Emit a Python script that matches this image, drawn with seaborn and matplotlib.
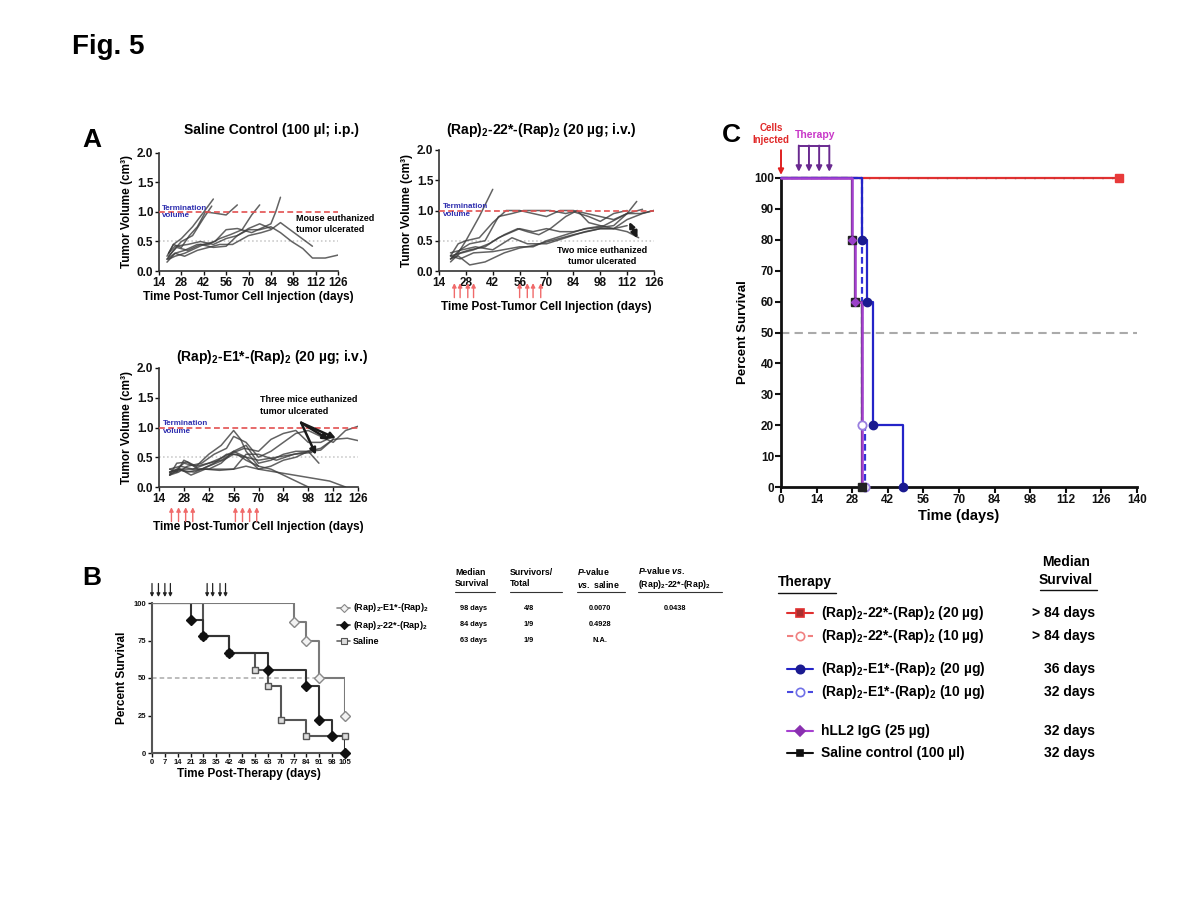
import numpy as np
import pandas as pd
import matplotlib
matplotlib.use('Agg')
import matplotlib.pyplot as plt
import matplotlib.transforms as mtransforms
import seaborn as sns

# ---------------- panel A: tumour volume (cm3) of each mouse ----------------
sal_days = [
    [19, 23, 28, 35, 42, 48],
    [19, 23, 28, 35, 42, 47],
    [20, 23, 28, 33, 38, 43, 49, 56, 63],
    [19, 24, 30, 38, 45, 52, 59, 66, 72, 77],
    [20, 24, 30, 42, 49, 56, 63, 72, 80, 84, 87, 90],
    [20, 25, 32, 40, 48, 56, 63, 70, 77, 84, 90, 97, 104, 110, 118, 126],
    [19, 24, 30, 38, 45, 52, 60, 70, 78, 84, 90, 100, 110],
    [20, 24, 32, 40, 48, 56, 63, 70, 77, 84],
]
sal_vol = [
    [0.25, 0.45, 0.55, 0.75, 1.00, 1.22],
    [0.20, 0.35, 0.50, 0.60, 0.90, 1.10],
    [0.30, 0.45, 0.40, 0.60, 0.75, 1.00, 0.98, 0.95, 1.12],
    [0.15, 0.30, 0.35, 0.45, 0.45, 0.55, 0.62, 0.70, 0.95, 1.12],
    [0.20, 0.25, 0.30, 0.45, 0.50, 0.70, 0.72, 0.65, 0.75, 0.80, 1.00, 1.25],
    [0.25, 0.40, 0.35, 0.45, 0.40, 0.42, 0.60, 0.70, 0.70, 0.75, 0.65, 0.50, 0.38, 0.22, 0.22, 0.27],
    [0.20, 0.30, 0.25, 0.35, 0.40, 0.45, 0.45, 0.60, 0.65, 0.70, 0.82, 0.62, 0.42],
    [0.30, 0.42, 0.45, 0.50, 0.45, 0.55, 0.60, 0.72, 0.80, 0.72],
]

r22_days = [
    [20, 24, 28, 35, 42],
    [20, 24, 28, 35, 42, 49, 56, 63, 70, 77, 84, 91, 98, 105, 112, 119, 126],
    [20, 25, 30, 38, 45, 52, 58, 65, 72, 80, 84, 92, 98, 105, 112],
    [20, 25, 30, 38, 45, 56, 63, 70, 77, 84, 91, 98, 105, 112, 117],
    [20, 26, 32, 40, 48, 55, 60, 66, 72, 80, 86, 92, 98, 105, 112, 118],
    [20, 24, 30, 38, 48, 56, 63, 70, 84, 98, 105, 112, 120, 126],
    [20, 26, 33, 42, 52, 60, 70, 80, 90, 98, 105, 112],
    [20, 25, 32, 42, 56, 63, 70, 80, 90, 100, 112, 120],
]
r22_vol = [
    [0.20, 0.30, 0.50, 0.90, 1.35],
    [0.25, 0.45, 0.50, 0.55, 0.80, 1.00, 1.00, 0.95, 0.90, 1.00, 1.00, 0.95, 0.90, 0.85, 0.95, 0.95, 1.00],
    [0.20, 0.35, 0.45, 0.50, 0.90, 0.95, 1.00, 1.00, 1.00, 0.95, 0.98, 0.90, 0.82, 0.95, 1.00],
    [0.15, 0.30, 0.35, 0.40, 0.55, 0.70, 0.65, 0.70, 0.65, 0.65, 0.70, 0.72, 0.75, 0.95, 1.15],
    [0.25, 0.30, 0.35, 0.45, 0.60, 0.70, 0.65, 0.60, 0.70, 0.90, 1.00, 0.80, 0.75, 0.70, 0.65, 0.55],
    [0.20, 0.25, 0.10, 0.15, 0.30, 0.38, 0.42, 0.48, 0.60, 0.70, 0.70, 0.85, 0.95, 1.00],
    [0.30, 0.35, 0.40, 0.35, 0.55, 0.45, 0.45, 0.55, 0.65, 0.70, 0.70, 0.75],
    [0.25, 0.20, 0.30, 0.32, 0.40, 0.40, 0.50, 0.60, 0.70, 0.75, 0.95, 1.02],
]

e1_days = [
    [20, 24, 28, 35, 42, 49, 56, 60, 63, 70],
    [20, 25, 30, 38, 45, 52, 56, 63, 70, 77, 84, 91, 98, 105, 112, 119, 126],
    [20, 24, 28, 35, 42, 50, 56, 63, 70, 77, 84, 91, 98, 105, 112],
    [20, 25, 30, 38, 45, 52, 58, 63, 70, 77, 84, 91, 98],
    [20, 26, 32, 40, 48, 56, 63, 70, 80, 90, 100, 110, 119],
    [20, 24, 30, 36, 42, 49, 56, 63, 70, 77, 84, 91, 98, 104],
    [20, 25, 32, 40, 48, 56, 63, 70, 80, 90, 98, 105, 112, 120, 126],
    [20, 26, 33, 42, 49, 56, 62, 70, 77, 84, 91, 98, 105, 112],
    [20, 26, 34, 42, 50, 56, 63, 70, 80, 90, 100],
]
e1_vol = [
    [0.25, 0.30, 0.40, 0.35, 0.55, 0.70, 0.95, 0.80, 0.60, 0.35],
    [0.20, 0.25, 0.35, 0.40, 0.55, 0.65, 0.85, 0.75, 0.50, 0.60, 0.75, 0.90, 0.95, 0.85, 0.75, 0.95, 1.02],
    [0.30, 0.25, 0.45, 0.35, 0.40, 0.50, 0.60, 0.70, 0.40, 0.45, 0.55, 0.60, 0.60, 0.65, 0.80],
    [0.20, 0.30, 0.25, 0.30, 0.40, 0.55, 0.55, 0.45, 0.35, 0.30, 0.20, 0.10, 0.00],
    [0.25, 0.30, 0.20, 0.30, 0.30, 0.30, 0.35, 0.30, 0.25, 0.20, 0.15, 0.10, 0.00],
    [0.20, 0.40, 0.42, 0.30, 0.30, 0.40, 0.60, 0.50, 0.30, 0.35, 0.45, 0.50, 0.60, 0.40],
    [0.25, 0.30, 0.30, 0.30, 0.28, 0.30, 0.55, 0.55, 0.45, 0.55, 0.60, 0.62, 0.80, 0.82, 0.78],
    [0.30, 0.35, 0.30, 0.40, 0.45, 0.58, 0.65, 0.60, 0.80, 0.90, 0.95, 0.75, 0.75, 0.85],
    [0.22, 0.28, 0.25, 0.35, 0.45, 0.55, 0.50, 0.45, 0.50, 0.55, 0.58],
]

a2_dose_days = [22, 25, 29, 32, 56, 60, 63, 67]
a3_dose_days = [21, 25, 29, 33, 57, 61, 65, 69]

# ---------------- panel B: Kaplan-Meier, days post-therapy ----------------
b_e1_t = [0, 77, 84, 91, 105]
b_e1_s = [100, 87.5, 75, 50, 25]
b_22_t = [0, 21, 28, 42, 63, 84, 91, 98, 105]
b_22_s = [100, 88.9, 77.8, 66.7, 55.6, 44.4, 22.2, 11.1, 0]
b_sal_t = [0, 28, 42, 56, 63, 70, 84, 105]
b_sal_s = [100, 77.8, 66.7, 55.6, 44.4, 22.2, 11.1, 11.1]
b_dose_days = [0, 3.5, 7, 10, 30, 33, 37, 40]

b_groups = ['(Rap)$_2$-E1*-(Rap)$_2$', '(Rap)$_2$-22*-(Rap)$_2$', 'Saline']
b_median = ['98 days', '84 days', '63 days']
b_survivors = ['4/8', '1/9', '1/9']
b_p_saline = ['0.0070', '0.4928', 'N.A.']
b_p_22 = ['0.0438', '', '']

# ---------------- panel C: Kaplan-Meier, days post cell injection ----------------
c_red20_t = [0, 133]
c_red20_s = [100, 100]
c_red10_t = [0, 133]
c_red10_s = [100, 100]
c_blue20_t = [0, 32, 34, 36, 48]
c_blue20_s = [100, 80, 60, 20, 0]
c_blue10_t = [0, 32, 33]
c_blue10_s = [100, 20, 0]
c_hll2_t = [0, 28, 29, 32]
c_hll2_s = [100, 80, 60, 0]
c_sal_t = [0, 28, 29, 32]
c_sal_s = [100, 80, 60, 0]
c_dose_days = [7, 11, 15, 19]

c_labels = ['(Rap)$_2$-22*-(Rap)$_2$ (20 µg)', '(Rap)$_2$-22*-(Rap)$_2$ (10 µg)',
            '(Rap)$_2$-E1*-(Rap)$_2$ (20 µg)', '(Rap)$_2$-E1*-(Rap)$_2$ (10 µg)',
            'hLL2 IgG (25 µg)', 'Saline control (100 µl)']
c_median = ['> 84 days', '> 84 days', '36 days', '32 days', '32 days', '32 days']

# ---------------- style ----------------
sns.set_theme(style='ticks')
plt.rcParams['font.family'] = ['Liberation Sans', 'DejaVu Sans']
plt.rcParams['font.weight'] = 'bold'
plt.rcParams['axes.labelweight'] = 'bold'
plt.rcParams['text.color'] = 'black'
plt.rcParams['axes.labelcolor'] = 'black'
plt.rcParams['mathtext.fontset'] = 'custom'
plt.rcParams['mathtext.rm'] = 'Liberation Sans:bold'
plt.rcParams['mathtext.bf'] = 'Liberation Sans:bold'
plt.rcParams['mathtext.it'] = 'Liberation Sans:italic:bold'
plt.rcParams['mathtext.default'] = 'bf'

W, H = 1200, 900
fig = plt.figure(figsize=(12, 9), dpi=100)


def box(x0, y0, x1, y1):
    return [x0 / W, 1 - y1 / H, (x1 - x0) / W, (y1 - y0) / H]


# page layer for free text, in pixel coordinates
page = fig.add_axes([0, 0, 1, 1])
page.set_xlim(0, W)
page.set_ylim(H, 0)
page.axis('off')

page.text(72, 47, 'Fig. 5', fontsize=20, va='center')
page.text(82, 140, 'A', fontsize=19, va='center')
page.text(82, 578, 'B', fontsize=19, va='center')
page.text(722, 135, 'C', fontsize=19, va='center')


def long_form(days, vols):
    rows = []
    for i, (d, v) in enumerate(zip(days, vols)):
        for dd, vv in zip(d, v):
            rows.append((i, dd, vv))
    return pd.DataFrame(rows, columns=['mouse', 'day', 'vol'])


def tumour_panel(rect, days, vols, title, title_xy, dose_days=None, arrow_y=None, xpad=2):
    ax = fig.add_axes(box(*rect))
    ax.patch.set_visible(False)
    df = long_form(days, vols)
    ax.axhline(0.5, color='#c4c4c4', ls=':', lw=1.1, zorder=1)
    sns.lineplot(data=df, x='day', y='vol', units='mouse', estimator=None, sort=False,
                 color='#3c3c3c', lw=1.1, alpha=0.8, ax=ax, legend=False, zorder=2)
    ax.axhline(1.0, color='#e35050', ls=(0, (3.5, 2)), lw=1.2, zorder=3)
    ax.set_xlim(14, 126)
    ax.set_ylim(0, 2.0)
    ax.set_xticks(range(14, 127, 14))
    ax.set_yticks([0, 0.5, 1.0, 1.5, 2.0])
    ax.yaxis.set_major_formatter('{x:.1f}')
    ax.tick_params(labelsize=8.5, length=3, width=1, pad=1, colors='#111')
    sns.despine(ax=ax)
    for s in ['left', 'bottom']:
        ax.spines[s].set_linewidth(1.2)
        ax.spines[s].set_color('#333')
    ax.set_xlabel('Time Post-Tumor Cell Injection (days)', fontsize=8.5, labelpad=xpad)
    ax.set_ylabel('Tumor Volume (cm³)', fontsize=8.5, labelpad=3)
    ax.text(16, 1.0, 'Termination\nvolume', color='#3030b0', fontsize=5.8,
            va='center', ha='left', linespacing=1.1)
    page.text(title_xy[0], title_xy[1], title, fontsize=10, ha='center', va='center')
    if dose_days is not None:
        trans = mtransforms.blended_transform_factory(ax.transData, ax.transAxes)
        for d in dose_days:
            ax.annotate('', xy=(d, arrow_y[0]), xytext=(d, arrow_y[1]),
                        xycoords=trans, textcoords=trans, annotation_clip=False,
                        arrowprops=dict(arrowstyle='-|>', color='#f06a6a', lw=1,
                                        mutation_scale=6, shrinkA=0, shrinkB=0))
    return ax


a1 = tumour_panel((159, 153, 338, 271), sal_days, sal_vol,
                  'Saline Control (100 µl; i.p.)', (271, 130))
a1.text(100, 0.8, 'Mouse euthanized\ntumor ulcerated', fontsize=6.5, va='center',
        ha='left', linespacing=1.3, clip_on=False)

a2 = tumour_panel((439, 150, 654, 271), r22_days, r22_vol,
                  '(Rap)$_2$-22*-(Rap)$_2$ (20 µg; i.v.)', (541, 130),
                  dose_days=a2_dose_days, arrow_y=(-0.10, -0.22), xpad=9)
a2.text(99, 0.25, 'Two mice euthanized\ntumor ulcerated', fontsize=6.5, va='center',
        ha='center', linespacing=1.3)
a2.annotate('', xy=(118, 0.5), xytext=(113.5, 0.8),
            arrowprops=dict(arrowstyle='-|>', color='k', lw=2, mutation_scale=9))
a2.annotate('', xy=(112.5, 0.85), xytext=(117, 0.55),
            arrowprops=dict(arrowstyle='-|>', color='k', lw=1.6, mutation_scale=8))

a3 = tumour_panel((159, 368, 358, 487), e1_days, e1_vol,
                  '(Rap)$_2$-E1*-(Rap)$_2$ (20 µg; i.v.)', (272, 357),
                  dose_days=a3_dose_days, arrow_y=(-0.17, -0.29), xpad=12)
a3.text(71, 1.37, 'Three mice euthanized\ntumor ulcerated', fontsize=6.5, va='center',
        ha='left', linespacing=1.3)
for tip in [(115, 0.8), (111, 0.77), (103, 0.5)]:
    a3.annotate('', xy=tip, xytext=(94, 1.08),
                arrowprops=dict(arrowstyle='-|>', color='k', lw=1.8, mutation_scale=9,
                                shrinkA=0))

# ---------------- panel B ----------------
b = fig.add_axes(box(152, 603, 345, 753))
b.patch.set_visible(False)
b.axhline(50, color='#aaaaaa', ls=(0, (3, 2)), lw=1.1, zorder=1)
sns.lineplot(x=b_sal_t, y=b_sal_s, drawstyle='steps-post', estimator=None, sort=False,
             color='#555555', lw=1.5, ax=b, zorder=2)
sns.lineplot(x=b_22_t, y=b_22_s, drawstyle='steps-post', estimator=None, sort=False,
             color='#333333', lw=1.5, ax=b, zorder=3)
sns.lineplot(x=b_e1_t, y=b_e1_s, drawstyle='steps-post', estimator=None, sort=False,
             color='#7a7a7a', lw=1.5, ax=b, zorder=4)
b.plot(b_sal_t[1:], b_sal_s[1:], ls='none', marker='s', ms=5, mfc='#dddddd', mec='#555',
       mew=1, zorder=5, clip_on=False)
b.plot(b_22_t[1:], b_22_s[1:], ls='none', marker='D', ms=5, mfc='#111', mec='#111',
       zorder=6, clip_on=False)
b.plot(b_e1_t[1:], b_e1_s[1:], ls='none', marker='D', ms=5, mfc='#f2f2f2', mec='#888',
       mew=1, zorder=7, clip_on=False)
b.set_xlim(0, 105)
b.set_ylim(0, 100)
b.set_xticks(range(0, 106, 7))
b.set_yticks([0, 25, 50, 75, 100])
b.tick_params(labelsize=5.5, length=3, width=1, pad=1, colors='#111')
sns.despine(ax=b)
for s in ['left', 'bottom']:
    b.spines[s].set_linewidth(1.5)
    b.spines[s].set_color('#555')
b.set_xlabel('Time Post-Therapy (days)', fontsize=8.5, labelpad=2)
b.set_ylabel('Percent Survival', fontsize=8.5, labelpad=4)
btrans = mtransforms.blended_transform_factory(b.transData, b.transAxes)
for d in b_dose_days:
    b.annotate('', xy=(d, 1.04), xytext=(d, 1.13), xycoords=btrans, textcoords=btrans,
               annotation_clip=False,
               arrowprops=dict(arrowstyle='-|>', color='#222', lw=0.9, mutation_scale=5,
                               shrinkA=0, shrinkB=0))

# B key and table
b_rows = [608, 625, 641]
b_styles = [dict(color='#888', marker='D', mfc='#f2f2f2', mec='#888'),
            dict(color='#333', marker='D', mfc='#111', mec='#111'),
            dict(color='#666', marker='s', mfc='#dddddd', mec='#555')]
for y, st, lab in zip(b_rows, b_styles, b_groups):
    page.plot([337, 350], [y, y], color=st['color'], lw=1.2)
    page.plot([343.5], [y], marker=st['marker'], ms=4, mfc=st['mfc'], mec=st['mec'], mew=0.8)
    page.text(353, y, lab, fontsize=6.5, va='center', ha='left')

headers = [(455, 'Median\nSurvival', 495), (510, 'Survivors/\nTotal', 562),
           (577, '$\\mathit{P}$-value\n$\\mathit{vs.}$ saline', 625),
           (638, '$\\mathit{P}$-value $\\mathit{vs.}$\n(Rap)$_2$-22*-(Rap)$_2$', 722)]
for x0, txt, x1 in headers:
    page.text(x0, 578, txt, fontsize=6.3, ha='left', va='center', linespacing=1.25)
    page.plot([x0, x1], [592, 592], color='#333', lw=0.8)
cols = [(473, b_median), (529, b_survivors), (600, b_p_saline), (675, b_p_22)]
for cx, vals in cols:
    for y, v in zip(b_rows, vals):
        page.text(cx, y, v, fontsize=5.3, ha='center', va='center')

# ---------------- panel C ----------------
c = fig.add_axes(box(781, 178, 1137, 487))
c.patch.set_visible(False)
c.axhline(50, color='#aaaaaa', ls=(0, (4, 2.5)), lw=1.5, zorder=1)
sns.lineplot(x=c_red20_t, y=c_red20_s, drawstyle='steps-post', estimator=None, sort=False,
             color='#e23030', lw=1.6, ax=c, zorder=2, clip_on=False)
sns.lineplot(x=c_red10_t, y=c_red10_s, drawstyle='steps-post', estimator=None, sort=False,
             color='#b83a3a', lw=1.0, ls=(0, (1, 6)), ax=c, zorder=2, clip_on=False)
sns.lineplot(x=c_blue10_t, y=c_blue10_s, drawstyle='steps-post', estimator=None, sort=False,
             color='#3434d8', lw=1.6, ls=(0, (3, 1.5)), ax=c, zorder=3, clip_on=False)
sns.lineplot(x=c_sal_t, y=c_sal_s, drawstyle='steps-post', estimator=None, sort=False,
             color='#222222', lw=1.6, ax=c, zorder=3, clip_on=False)
sns.lineplot(x=c_blue20_t, y=c_blue20_s, drawstyle='steps-post', estimator=None, sort=False,
             color='#2424c8', lw=1.6, ax=c, zorder=4, clip_on=False)
sns.lineplot(x=c_hll2_t, y=c_hll2_s, drawstyle='steps-post', estimator=None, sort=False,
             color='#a640d0', lw=1.8, ax=c, zorder=6, clip_on=False)
c.plot(c_red20_t[-1:], c_red20_s[-1:], ls='none', marker='s', ms=6, mfc='#e83a3a', mec='#e83a3a', zorder=8, clip_on=False)
c.plot(c_blue20_t[1:], c_blue20_s[1:], ls='none', marker='o', ms=6, mfc='#1a1a90', mec='#1a1a90', zorder=8, clip_on=False)
c.plot(c_blue10_t[1:], c_blue10_s[1:], ls='none', marker='o', ms=6, mfc='white', mec='#9a80e0', mew=1.3, zorder=8, clip_on=False)
c.plot(c_sal_t[1:], c_sal_s[1:], ls='none', marker='s', ms=6, mfc='#222', mec='#222', zorder=8, clip_on=False)
c.plot(c_hll2_t[1:-1], c_hll2_s[1:-1], ls='none', marker='D', ms=4, mfc='#9a40c8', mec='#9a40c8', zorder=9, clip_on=False)
c.set_xlim(0, 140)
c.set_ylim(0, 100)
c.set_xticks(range(0, 141, 14))
c.set_yticks(range(0, 101, 10))
c.tick_params(labelsize=8.5, length=4, width=1.5, pad=1, colors='#111')
sns.despine(ax=c)
for s in ['left', 'bottom']:
    c.spines[s].set_linewidth(2)
    c.spines[s].set_color('#111')
c.set_xlabel('Time (days)', fontsize=10.5, labelpad=2)
c.set_ylabel('Percent Survival', fontsize=9.5, labelpad=4)
ctrans = mtransforms.blended_transform_factory(c.transData, c.transAxes)
c.annotate('', xy=(0, 1.01), xytext=(0, 1.09), xycoords=ctrans, textcoords=ctrans,
           annotation_clip=False,
           arrowprops=dict(arrowstyle='-|>', color='#e02020', lw=1.4, mutation_scale=8,
                           shrinkA=0, shrinkB=0))
for d in c_dose_days:
    c.annotate('', xy=(d, 1.02), xytext=(d, 1.105), xycoords=ctrans, textcoords=ctrans,
               annotation_clip=False,
               arrowprops=dict(arrowstyle='-|>', color='#6a2a90', lw=1.4, mutation_scale=8,
                               shrinkA=0, shrinkB=0))
c.plot([c_dose_days[0], c_dose_days[-1]], [1.105, 1.105], transform=ctrans, color='#6a2a90',
       lw=1.4, clip_on=False)
page.text(771, 134, 'Cells\nInjected', color='#e02828', fontsize=7, ha='center', va='center',
          linespacing=1.2)
page.text(815, 135, 'Therapy', color='#c838c8', fontsize=7.5, ha='center', va='center')

# C key
c_rows = [613, 636, 669, 692, 731, 753]
c_styles = [dict(color='#e03030', ls='-', marker='s', mfc='#a83030', mec='#e03030', ms=6),
            dict(color='#f08080', ls=(0, (3, 2)), marker='o', mfc='white', mec='#f08080', ms=6),
            dict(color='#2424c8', ls='-', marker='o', mfc='#1a1a90', mec='#1a1a90', ms=6),
            dict(color='#4a4ae0', ls=(0, (3, 2)), marker='o', mfc='white', mec='#7070e8', ms=6),
            dict(color='#a640d0', ls='-', marker='D', mfc='#8a30b0', mec='#8a30b0', ms=5),
            dict(color='#111111', ls='-', marker='s', mfc='#111', mec='#111', ms=5)]
for y, st, lab, med in zip(c_rows, c_styles, c_labels, c_median):
    page.plot([787, 813], [y, y], color=st['color'], ls=st['ls'], lw=1.5)
    page.plot([800], [y], marker=st['marker'], ms=st['ms'], mfc=st['mfc'], mec=st['mec'], mew=1.2)
    page.text(821, y, lab, fontsize=10, ha='left', va='center')
    page.text(1095, y, med, fontsize=10, ha='right', va='center')
page.text(778, 582, 'Therapy', fontsize=10, ha='left', va='center')
page.plot([778, 836], [593, 593], color='#111', lw=1)
page.text(1066, 571, 'Median\nSurvival', fontsize=10, ha='center', va='center', linespacing=1.3)
page.plot([1040, 1097], [590, 590], color='#111', lw=1)

fig.savefig('out.png', dpi=100)
